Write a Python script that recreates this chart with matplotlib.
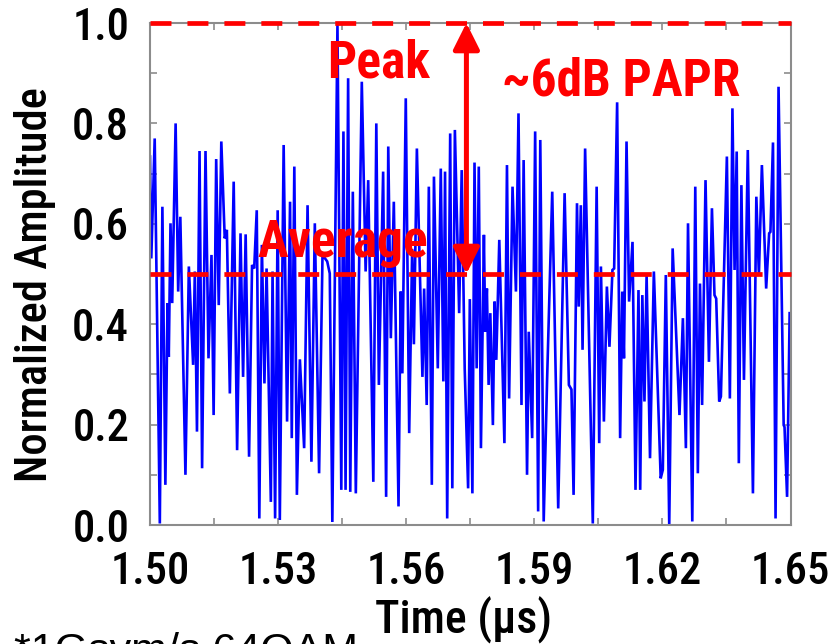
import numpy as np
import matplotlib
matplotlib.use("Agg")
import matplotlib.pyplot as plt
from matplotlib.ticker import FixedLocator, NullFormatter

# Normalized envelope of a 64QAM waveform (time in ns, amplitude normalized to peak)
time_ns = [
    1500.0, 1500.3, 1501.1, 1502.3, 1502.9, 1503.6, 1504.1, 1504.4, 1504.8, 1505.2,
    1506.0, 1506.6, 1507.1, 1508.3, 1509.1, 1510.1, 1510.5, 1511.0, 1511.6, 1512.2,
    1513.0, 1513.7, 1514.4, 1514.9, 1515.5, 1516.1, 1516.7, 1517.5, 1518.0, 1518.7,
    1519.6, 1520.4, 1521.2, 1521.8, 1522.4, 1523.2, 1523.9, 1524.4, 1525.0, 1525.6,
    1526.2, 1526.8, 1527.3, 1528.3, 1528.7, 1529.3, 1529.9, 1530.4, 1531.3, 1532.1,
    1532.8, 1533.2, 1533.8, 1534.4, 1535.1, 1536.1, 1536.9, 1537.8, 1538.6, 1539.6,
    1540.4, 1541.5, 1542.1, 1542.7, 1543.9, 1544.8, 1545.3, 1545.8, 1546.4, 1546.9,
    1547.5, 1548.2, 1549.6, 1550.5, 1551.1, 1552.3, 1553.0, 1553.6, 1554.6, 1555.3,
    1555.8, 1556.4, 1557.1, 1558.2, 1558.7, 1559.1, 1559.9, 1560.7, 1561.4, 1561.8,
    1562.5, 1563.8, 1564.2, 1564.8, 1565.3, 1566.0, 1566.5, 1567.4, 1568.1, 1568.7,
    1569.1, 1569.6, 1570.3, 1570.8, 1571.4, 1572.4, 1573.0, 1573.7, 1574.5, 1574.9,
    1575.5, 1576.0, 1576.5, 1577.0, 1577.5, 1578.2, 1578.5, 1578.9, 1579.3, 1579.7,
    1580.3, 1580.7, 1581.1, 1581.8, 1582.3, 1583.0, 1583.6, 1584.1, 1584.9, 1585.7,
    1586.3, 1587.0, 1587.5, 1588.3, 1588.7, 1589.5, 1590.2, 1590.9, 1591.4, 1592.2,
    1593.0, 1594.2, 1595.6, 1597.1, 1598.1, 1598.7, 1599.2, 1600.0, 1600.4, 1600.9,
    1601.3, 1601.9, 1603.7, 1604.6, 1605.2, 1605.6, 1606.3, 1607.0, 1607.6, 1608.3,
    1608.7, 1609.4, 1610.1, 1610.6, 1611.0, 1611.6, 1612.2, 1613.0, 1613.7, 1614.4,
    1614.8, 1615.3, 1615.8, 1616.3, 1617.1, 1618.0, 1619.6, 1620.1, 1620.8, 1621.6,
    1622.4, 1624.0, 1624.8, 1625.5, 1626.0, 1627.0, 1627.7, 1628.3, 1628.8, 1629.3,
    1630.1, 1630.9, 1631.6, 1632.2, 1632.6, 1633.3, 1633.7, 1635.1, 1635.8, 1636.4,
    1636.9, 1637.4, 1637.9, 1638.5, 1639.1, 1640.0, 1641.2, 1642.0, 1642.6, 1643.3,
    1644.3, 1645.0, 1645.3, 1645.9, 1646.5, 1647.2, 1648.4, 1648.6, 1649.2, 1649.8,
]
amplitude = [
    0.734, 0.531, 0.770, 0.003, 0.634, 0.080, 0.442, 0.335, 0.601, 0.442,
    0.800, 0.465, 0.614, 0.100, 0.515, 0.319, 0.505, 0.186, 0.745, 0.113,
    0.745, 0.332, 0.538, 0.219, 0.729, 0.438, 0.764, 0.571, 0.588, 0.262,
    0.684, 0.149, 0.581, 0.295, 0.579, 0.136, 0.518, 0.511, 0.627, 0.013,
    0.558, 0.282, 0.511, 0.046, 0.505, 0.013, 0.627, 0.010, 0.757, 0.206,
    0.644, 0.173, 0.714, 0.060, 0.330, 0.153, 0.637, 0.126, 0.601, 0.103,
    0.538, 0.525, 0.501, 0.006, 0.996, 0.070, 0.784, 0.070, 0.890, 0.066,
    0.664, 0.063, 0.883, 0.505, 0.687, 0.086, 0.800, 0.279, 0.704, 0.056,
    0.754, 0.372, 0.644, 0.037, 0.465, 0.302, 0.850, 0.183, 0.550, 0.360,
    0.750, 0.295, 0.471, 0.239, 0.674, 0.080, 0.694, 0.312, 0.710, 0.286,
    0.704, 0.013, 0.780, 0.073, 0.787, 0.422, 0.707, 0.312, 0.073, 0.450,
    0.063, 0.722, 0.312, 0.714, 0.153, 0.578, 0.385, 0.471, 0.279, 0.422,
    0.199, 0.445, 0.329, 0.568, 0.400, 0.163, 0.717, 0.252, 0.674, 0.465,
    0.820, 0.239, 0.727, 0.100, 0.385, 0.173, 0.784, 0.027, 0.767, 0.007,
    0.290, 0.664, 0.033, 0.661, 0.279, 0.270, 0.060, 0.641, 0.435, 0.637,
    0.349, 0.750, 0.003, 0.674, 0.163, 0.515, 0.206, 0.475, 0.355, 0.508,
    0.511, 0.842, 0.173, 0.465, 0.332, 0.764, 0.445, 0.564, 0.070, 0.468,
    0.070, 0.458, 0.246, 0.498, 0.133, 0.505, 0.093, 0.110, 0.498, 0.000,
    0.551, 0.219, 0.412, 0.153, 0.601, 0.007, 0.674, 0.103, 0.481, 0.239,
    0.687, 0.325, 0.631, 0.458, 0.451, 0.246, 0.256, 0.734, 0.252, 0.830,
    0.508, 0.744, 0.123, 0.677, 0.289, 0.747, 0.063, 0.654, 0.498, 0.717,
    0.471, 0.581, 0.584, 0.762, 0.013, 0.873, 0.199, 0.195, 0.056, 0.422,
]

peak_level = 1.0
average_level = 0.5
x_ticks = [1.50, 1.53, 1.56, 1.59, 1.62, 1.65]
y_ticks = [0.0, 0.2, 0.4, 0.6, 0.8, 1.0]

NARROW = ["Roboto Condensed", "DejaVu Sans"]
REGULAR = ["Liberation Sans", "DejaVu Sans"]
RED = "#ff0000"
BLUE = "#0000ff"
FRAME = "#8c8c8c"

plt.rcParams["lines.scale_dashes"] = False
plt.rcParams["font.family"] = NARROW
plt.rcParams["font.weight"] = 500

W, H = 830, 644
fig = plt.figure(figsize=(W / 100, H / 100), dpi=100)


def fx(px):
    return px / W


def fy(py):
    return 1 - py / H


ax = fig.add_axes([fx(150), fy(525), fx(790.5) - fx(150), fy(23) - fy(525)])

t_us = np.array(time_ns) / 1000.0
ax.plot(t_us, amplitude, color=BLUE, lw=1.9, solid_joinstyle="miter", zorder=2)

ax.set_xlim(1.50, 1.65)
ax.set_ylim(0.0, 1.0)

# ticks: labelled majors plus unlabelled intermediate marks
ax.xaxis.set_major_locator(FixedLocator(x_ticks))
ax.xaxis.set_minor_locator(FixedLocator([1.515, 1.545, 1.575, 1.605, 1.635]))
ax.yaxis.set_major_locator(FixedLocator(y_ticks))
ax.yaxis.set_minor_locator(FixedLocator([0.1, 0.3, 0.5, 0.7, 0.9]))
ax.set_xticklabels([f"{v:.2f}" for v in x_ticks])
ax.set_yticklabels([f"{v:.1f}" for v in y_ticks])
ax.xaxis.set_minor_formatter(NullFormatter())
ax.yaxis.set_minor_formatter(NullFormatter())

for which in ("major", "minor"):
    ax.tick_params(axis="both", which=which, direction="in", length=5, width=1.2,
                   color=FRAME, top=True, right=True)
ax.tick_params(axis="x", which="major", labelsize=32, pad=19, labelcolor="black")
ax.tick_params(axis="y", which="major", labelsize=32, pad=15, labelcolor="black")

for s in ax.spines.values():
    s.set_color(FRAME)
    s.set_linewidth(1.5)

# peak and average reference lines
for lvl in (peak_level, average_level):
    ax.axhline(lvl, color=RED, lw=3.4, dashes=(15.1, 11.5), clip_on=False, zorder=3)

# PAPR arrow between the two levels
arrow_t = 1.5741
ax.annotate("", xy=(arrow_t, peak_level), xytext=(arrow_t, average_level),
            arrowprops=dict(arrowstyle="<|-|>,head_length=0.8,head_width=0.4",
                            color=RED, lw=3.6, shrinkA=0, shrinkB=0,
                            mutation_scale=20),
            annotation_clip=False, zorder=4)

bold = dict(color=RED, fontweight="bold", fontsize=37, family=NARROW,
            ha="left", va="baseline")
fig.text(fx(327), fy(77), "Peak", **bold)
fig.text(fx(502), fy(95), "~6dB PAPR", **bold)
fig.text(fx(257), fy(257), "Average", **bold)

fig.text(fx(35), fy(285), "Normalized Amplitude", rotation=90, ha="center",
         va="center", fontsize=32, family=NARROW)
fig.text(fx(464), fy(634), "Time (\u00b5s)", ha="center", va="baseline",
         fontsize=33, family=NARROW)
fig.text(fx(14), fy(663), "*1Gsym/s 64QAM", ha="left", va="baseline",
         fontsize=31, fontweight="normal", family=REGULAR)

fig.savefig("out.png", dpi=100)
